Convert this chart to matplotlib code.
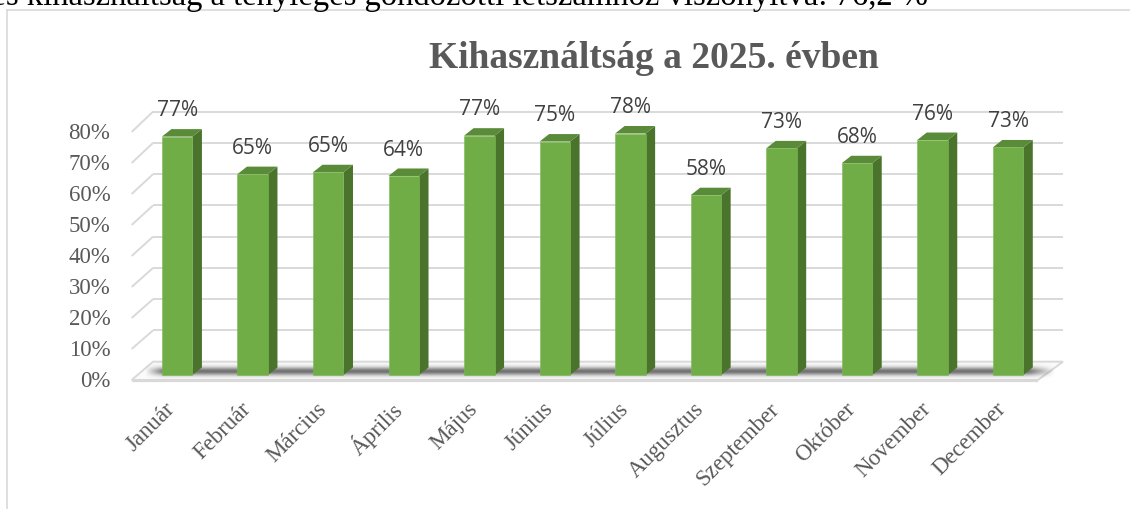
import numpy as np
import matplotlib
matplotlib.use("Agg")
import matplotlib.pyplot as plt
from matplotlib.patches import Polygon

# ---- data ----
months = ["Január", "Február", "Március", "Április", "Május", "Június",
          "Július", "Augusztus", "Szeptember", "Október", "November", "December"]
values_pct = [76.9, 64.8, 65.4, 64.2, 77.2, 75.3, 77.9, 58.0, 73.1, 68.3, 75.8, 73.4]
yticks_pct = [0, 10, 20, 30, 40, 50, 60, 70, 80]
title = "Kihasználtság a 2025. évben"
header = "Éves kihasználtság a tényleges gondozotti létszámhoz viszonyítva: 76,2 %"

W, H = 1130, 509
fig = plt.figure(figsize=(W / 100, H / 100), dpi=100)
fig.patch.set_facecolor("white")

# axes placed so that 1 x-unit = 75.53 px, 1 value-unit = 310 px
ax = fig.add_axes([139.4 / W, (H - 375) / H, 906.4 / W, 279 / H])
ax.set_xlim(-0.5, 11.5)
ax.set_ylim(0, 0.9)
ax.axis("off")

vals = np.array(values_pct) / 100.0
x = np.arange(len(months))

grid_c = "#D9D9D9"
front_c = "#70AD47"
side_c = "#4A732B"
top_c = "#5A8B38"

# geometry of the pseudo-3D box (data units)
xf_l, xb_l = -0.602, -0.32      # left edge front / back
xf_r, xb_r = 11.397, 11.728     # right edge front / back
def yfront(v):
    return v - 0.016
def yback(v):
    return v * 1.008 + 0.043

# floor
floor = Polygon([(xf_l, yfront(0)), (xb_l, yback(0)), (xb_r, yback(0)), (xf_r, yfront(0))],
                closed=True, facecolor="#FAFAFA", edgecolor=grid_c, lw=1.4,
                clip_on=False, zorder=1)
ax.add_patch(floor)
ax.plot([xf_l, xf_r], [yfront(0) - 0.004, yfront(0) - 0.004], color=grid_c, lw=1.6,
        clip_on=False, zorder=1, solid_capstyle="butt")

# shadow on the floor
hh, ww = 80, 900
ys_px = np.linspace(361.5, 381, hh)[:, None]
xs = np.linspace(-0.42, 11.62, ww)[None, :]
prof = np.exp(-((ys_px - 371.5) / 4.0) ** 2)
fade = np.clip((xs - (-0.42)) / 0.25, 0, 1) * np.clip((11.62 - xs) / 0.35, 0, 1)
alpha = 0.75 * prof * fade
img = np.zeros((hh, ww, 4))
img[..., 0] = img[..., 1] = img[..., 2] = 0.27
img[..., 3] = alpha
im = ax.imshow(img, extent=[-0.42, 11.62, (375 - 381) / 310, (375 - 361.5) / 310],
               origin="upper", aspect="auto", interpolation="bilinear", zorder=2,
               clip_on=False)
im.set_clip_path(floor)

# back wall grid + side wall diagonals
for t in yticks_pct:
    v = t / 100.0
    if t > 0:
        ax.plot([xb_l, xb_r], [yback(v), yback(v)], color=grid_c, lw=1.4,
                clip_on=False, zorder=3, solid_capstyle="butt")
        ax.plot([xf_l, xb_l], [yfront(v), yback(v)], color=grid_c, lw=1.4,
                clip_on=False, zorder=3, solid_capstyle="butt")

# bars
bw = 0.404
dx, dy = 0.1258, 0.0242
ax.bar(x, vals, width=bw, color=front_c, edgecolor="#7DB956", linewidth=0.4,
       zorder=6, clip_on=False)
for xi, v in zip(x, vals):
    r = xi + bw / 2
    l = xi - bw / 2
    side = Polygon([(r, 0), (r + dx, dy), (r + dx, v + dy), (r, v)], closed=True,
                   facecolor=side_c, edgecolor="none", zorder=5, clip_on=False)
    top = Polygon([(l, v), (l + dx, v + dy), (r + dx, v + dy), (r, v)], closed=True,
                  facecolor=top_c, edgecolor="none", zorder=5, clip_on=False)
    ax.add_patch(side)
    ax.add_patch(top)
    ax.annotate(f"{round(v * 100)}%", (xi, v), xytext=(0, 18.5), textcoords="offset points",
                ha="center", va="center", fontsize=15, color="#404040",
                family="Open Sans", zorder=8, annotation_clip=False)

# y tick labels
ylab_x = (110.5 - 139.4) / 75.53 - 0.5
for t in yticks_pct:
    ax.text(ylab_x, t / 100.0 - 0.02, f"{t}%", ha="right", va="center",
            fontsize=16.5, color="#595959", family="Liberation Serif", clip_on=False)

# x tick labels
for xi, m in zip(x, months):
    ax.text(xi - 0.066, -0.1, m, rotation=45, rotation_mode="anchor",
            ha="right", va="center", fontsize=16.5, color="#595959",
            family="Liberation Serif", clip_on=False)

# title
fig.text(653.5 / W, 1 - 68 / H, title, ha="center", va="baseline", fontsize=27,
         fontweight="bold", color="#595959", family="Liberation Serif")

# header line of the document (cut off at the top, as in the source page)
fig.text(-45 / W, 1 - 4.5 / H, header, ha="left", va="baseline", fontsize=23.5,
         color="black", family="Liberation Serif")

# chart frame
fig.add_artist(plt.Line2D([7 / W, 1], [1 - 9.5 / H, 1 - 9.5 / H], color=grid_c, lw=1.2,
                          transform=fig.transFigure))
fig.add_artist(plt.Line2D([7 / W, 7 / W], [0, 1 - 9.5 / H], color=grid_c, lw=1.2,
                          transform=fig.transFigure))

fig.savefig("out.png", dpi=100, facecolor="white")
